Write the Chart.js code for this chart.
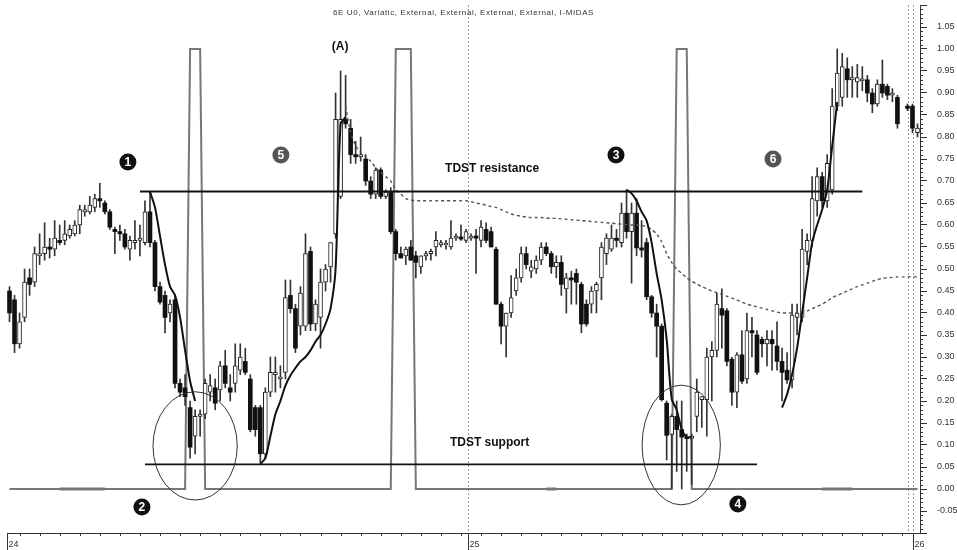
<!DOCTYPE html>
<html>
<head>
<meta charset="utf-8">
<title>6E U0 – I-MIDAS</title>
<script src="https://cdn.jsdelivr.net/npm/chart.js@4.4.1/dist/chart.umd.min.js"></script>
<style>
  html, body { margin: 0; padding: 0; background: #fff; }
  #wrap { width: 957px; height: 550px; }
</style>
</head>
<body>
<div id="wrap"><canvas id="chart" width="957" height="550"></canvas></div>
<script>
/* 6E U0 candles with I-MIDAS curves, TDST levels and the setup pulse indicator. */

// OHLC, one entry per bar (null = no bar).
const opens = [
  .45, .43, .33, .39, .48, .47, .53, .535, .55, .545,
  .565, .565, .575, .58, .60, .63, .63, .64, .66, .65,
  .63, .59, .585, .58, .545, .56, .565, .56, .63, .56,
  .46, .44, .40, .43, .24, .23, .185, .12, .165, .17,
  .22, .23, .225, .28, .23, .24, .27, .29, .25, .185,
  .185, .08, .22, .26, .25, .265, .44, .41, .37, .37,
  .54, .375, .39, .47, .505, .58, .665, .84, .82, .76,
  .755, .75, .70, .67, .725, .665, .675, .585, .535, .53,
  .55, .53, .505, .53, .535, .55, .555, .555, .55, .57,
  .573, .565, .57, .575, .565, .59, .585, .545, .42, .37,
  .40, .45, .48, .535, .495, .50, .52, .55, .535, .505,
  .515, .455, .48, .49, .465, .42, .42, .45, .48, .535,
  .545, .57, .56, .627, .585, .627, .548, .56, .437, .40,
  .37, .195, .124, .165, .135, .118, .115, .165, .203, .203,
  .30, .315, .41, .405, .295, .22, .305, .25, .36, .35,
  .34, .33, .34, .325, .29, .27, .248, .39, .39, .54,
  .565, .655, .71, .655, .68, .87, .89, .955, .93, .925,
  .93, .93, .90, .875, .92, .915, .895, .89, null, .87,
  .87, .81
];
const highs = [
  .46, .44, .40, .50, .50, .55, .58, .605, .57, .61,
  .60, .61, .60, .61, .645, .645, .665, .67, .695, .655,
  .635, .595, .60, .59, .575, .61, .60, .655, .676, .565,
  .47, .45, .43, .44, .25, .26, .20, .18, .18, .25,
  .26, .25, .29, .315, .26, .33, .33, .32, .26, .19,
  .19, .23, .30, .30, .28, .475, .475, .42, .46, .58,
  .55, .43, .50, .51, .56, .90, .95, .94, .84, .79,
  .80, .76, .71, .73, .73, .68, .685, .59, .55, .55,
  .565, .54, .53, .54, .545, .585, .565, .565, .61, .58,
  .60, .59, .58, .59, .61, .605, .595, .55, .425, .40,
  .485, .50, .55, .55, .52, .53, .56, .56, .54, .53,
  .53, .49, .495, .50, .47, .43, .46, .47, .56, .58,
  .60, .59, .65, .68, .65, .66, .61, .57, .44, .42,
  .375, .20, .17, .20, .20, .125, .125, .25, .21, .32,
  .335, .445, .455, .41, .30, .31, .36, .40, .39, .36,
  .345, .36, .36, .38, .32, .31, .42, .42, .59, .58,
  .71, .73, .72, .76, .91, 1.00, .99, .98, .96, .965,
  .96, .94, .91, .93, .975, .92, .91, .895, null, .875,
  .875, .83
];
const lows = [
  .38, .31, .32, .38, .44, .46, .51, .52, .525, .53,
  .555, .555, .57, .575, .58, .62, .625, .63, .64, .625,
  .59, .535, .565, .545, .52, .545, .53, .555, .55, .45,
  .42, .355, .38, .23, .21, .19, .07, .08, .12, .16,
  .20, .18, .20, .23, .20, .22, .26, .26, .13, .12,
  .06, .07, .21, .22, .23, .25, .40, .31, .35, .36,
  .36, .36, .32, .45, .47, .57, .66, .82, .74, .74,
  .745, .69, .66, .66, .66, .66, .58, .52, .525, .51,
  .52, .48, .49, .52, .52, .53, .55, .545, .545, .565,
  .565, .56, .565, .49, .55, .56, .55, .42, .33, .30,
  .39, .44, .47, .50, .48, .49, .51, .53, .49, .48,
  .44, .40, .42, .42, .355, .37, .40, .40, .43, .51,
  .54, .55, .55, .57, .468, .53, .527, .43, .39, .30,
  .20, .066, .00, .04, .00, .04, .01, .13, .14, .12,
  .20, .30, .32, .28, .19, .185, .24, .24, .30, .26,
  .30, .28, .27, .27, .20, .24, .23, .35, .38, .51,
  .55, .62, .64, .64, .67, .86, .87, .89, .89, .89,
  .905, .88, .855, .87, .89, .885, .88, .82, null, .86,
  .81, .80
];
const closes = [
  .40, .33, .38, .47, .465, .535, .535, .55, .545, .57,
  .56, .58, .59, .60, .635, .635, .645, .66, .655, .63,
  .595, .585, .58, .55, .565, .565, .57, .63, .56, .46,
  .425, .39, .42, .24, .22, .21, .095, .165, .17, .24,
  .235, .195, .28, .24, .22, .28, .30, .265, .135, .135,
  .08, .22, .265, .265, .255, .435, .41, .32, .445, .535,
  .375, .42, .47, .50, .56, .84, .84, .83, .76, .755,
  .76, .70, .67, .725, .665, .675, .585, .535, .525, .545,
  .52, .515, .53, .535, .54, .565, .56, .558, .57, .575,
  .568, .585, .575, .57, .595, .565, .55, .42, .37, .40,
  .435, .48, .535, .51, .505, .52, .55, .535, .505, .515,
  .465, .48, .475, .47, .375, .375, .45, .465, .55, .57,
  .57, .565, .627, .585, .627, .548, .543, .437, .40, .37,
  .203, .122, .165, .135, .118, .115, .12, .22, .21, .30,
  .315, .42, .395, .29, .22, .305, .245, .36, .355, .265,
  .33, .34, .33, .29, .265, .248, .395, .40, .545, .565,
  .66, .71, .655, .74, .87, .945, .96, .93, .935, .935,
  .93, .90, .875, .92, .90, .895, .90, .83, null, .865,
  .82, .82
];

const labels = opens.map((_, i) => String(i));

// I-MIDAS curves (black): first bar index + values.
const midas1Start = 28;
const midas1 = [.676, .64, .575, .51, .46, .44, .39, .315, .245, .20];
const midas2Start = 50;
const midas2 = [.057, .07, .12, .17, .20, .235, .258, .275, .29, .30, .315, .335, .35, .375, .41, .50, .83, .845];
const midas3Start = 123;
const midas3 = [.68, .672, .655, .63, .61, .56, .49, .43, .34, .205, .18, .135, .118, .118];
const midas4Start = 154;
const midas4 = [.185, .215, .26, .32, .40, .48, .56, .60, .635, .68, .78, .88];

// Dashed I-MIDAS from the (A) high.
const dashedStart = 67;
const dashed = [
  .87, .81, .78, .765, .755, .745, .73, .72, .71, .70,
  .68, .67, .66, .657, .655, .655, .655, .655, .655, .655,
  .655, .655, .655, .655, .655, .653, .65, .648, .645, .642,
  .64, .635, .63, .625, .622, .62, .618, .617, .617, .617,
  .616, .615, .615, .614, .613, .612, .611, .61, .609, .608,
  .607, .606, .605, .604, .603, .602, .601, .60, .60, .599,
  .596, .59, .58, .562, .535, .515, .50, .49, .48, .472,
  .466, .46, .455, .45, .446, .442, .438, .434, .43, .425,
  .42, .417, .414, .411, .408, .405, .402, .40, .40, .40,
  .40, .402, .405, .41, .415, .42, .427, .435, .44, .445,
  .45, .455, .46, .464, .468, .472, .476, .479, .48, .481,
  .482, .482, .482, .482, .482
];

// Setup indicator: bars where it reads 1.0, zero everywhere else.
const pulseOn = [36, 37, 38, 77, 78, 79, 80, 133, 134, 135];
// Short heavier stretches on the zero line.
const zeroMarks = [10, 11, 12, 13, 14, 15, 16, 17, 18, 19, 107, 108, 109, 162, 163, 164, 165, 166, 167, 168];

// TDST levels and the bars they span.
const resistanceLevel = 0.676;
const resistanceSpan = [26, 170];
const supportLevel = 0.056;
const supportSpan = [27, 149];

// Session starts (bar position) and their names.
const dayStarts = [-0.5, 91.4, 180.1];
const dayNames = ['24', '25', '26'];
const daySeparators = [91.4, 179.1, 180.1];

const notes = {
  title: '6E U0, Variatic, External, External, External, External, I-MIDAS',
  labels: [
    { text: '(A)', idx: 65.9, val: 1.005 },
    { text: 'TDST resistance', idx: 96.2, val: 0.727 },
    { text: 'TDST support', idx: 95.7, val: 0.105 }
  ],
  markers: [
    { n: '1', idx: 23.6, val: 0.743, fill: '#111' },
    { n: '2', idx: 26.4, val: -0.041, fill: '#111' },
    { n: '3', idx: 120.9, val: 0.759, fill: '#111' },
    { n: '4', idx: 145.2, val: -0.034, fill: '#111' },
    { n: '5', idx: 54.1, val: 0.759, fill: '#555' },
    { n: '6', idx: 152.2, val: 0.75, fill: '#555' }
  ],
  ellipses: [
    { idx: 37.0, val: 0.098, halfBars: 8.4, halfVal: 0.123 },
    { idx: 133.9, val: 0.10, halfBars: 7.8, halfVal: 0.136 }
  ]
};

const FONT = "'Liberation Sans', Arial, sans-serif";
const N = opens.length;

const padSeries = (start, values) => {
  const out = new Array(N).fill(null);
  values.forEach((v, k) => { out[start + k] = v; });
  return out;
};
const levelSeries = (level, [from, to]) => {
  const out = new Array(N).fill(null);
  out[from] = level;
  out[to] = level;
  return out;
};

// Floating bars: full range for the wick, open/close for the body.
const wicks = opens.map((o, i) => (o === null ? null : [lows[i], highs[i]]));
const bodyOf = (i) => {
  const lo = Math.min(opens[i], closes[i]);
  const hi = Math.max(opens[i], closes[i]);
  if (hi - lo < 0.004) { const m = (hi + lo) / 2; return [m - 0.002, m + 0.002]; }
  return [lo, hi];
};
const upBodies = opens.map((o, i) => (o !== null && closes[i] >= o ? bodyOf(i) : null));
const downBodies = opens.map((o, i) => (o !== null && closes[i] < o ? bodyOf(i) : null));

const pulse = labels.map((_, i) => (pulseOn.includes(i) ? 1 : 0));
const zeroMarkSeries = labels.map((_, i) => (zeroMarks.includes(i) ? 0 : null));

const lineDs = (data, extra) => Object.assign({
  type: 'line', data, pointRadius: 0, borderColor: '#111', borderWidth: 2,
  tension: 0.25, fill: false, spanGaps: false
}, extra);

const overlayPlugin = {
  id: 'overlay',
  beforeDatasetsDraw(chart) {
    const { ctx, chartArea: a, scales: { x } } = chart;
    ctx.save();
    ctx.strokeStyle = '#999';
    ctx.lineWidth = 1;
    ctx.setLineDash([2, 2]);
    daySeparators.forEach(v => {
      const px = Math.round(x.getPixelForValue(v)) + 0.5;
      ctx.beginPath(); ctx.moveTo(px, a.top); ctx.lineTo(px, a.bottom); ctx.stroke();
    });
    ctx.restore();
  },
  afterDraw(chart) {
    const { ctx, chartArea: a, scales: { x, y } } = chart;
    ctx.save();

    // minor ticks on the price axis
    ctx.strokeStyle = '#333';
    ctx.lineWidth = 1;
    for (let k = -10; k <= 110; k++) {
      if (k % 5 === 0) continue;
      const py = Math.round(y.getPixelForValue(k / 100)) + 0.5;
      ctx.beginPath(); ctx.moveTo(a.right, py); ctx.lineTo(a.right + 3, py); ctx.stroke();
    }

    // time axis ticks every 4 bars, plus session marks
    labels.forEach((_, i) => {
      if (i % 4 !== 2) return;
      const px = Math.round(x.getPixelForValue(i)) + 0.5;
      ctx.beginPath(); ctx.moveTo(px, a.bottom); ctx.lineTo(px, a.bottom + 3); ctx.stroke();
    });
    ctx.fillStyle = '#333';
    ctx.font = `9px ${FONT}`;
    ctx.textAlign = 'left';
    ctx.textBaseline = 'alphabetic';
    dayStarts.forEach((v, k) => {
      const px = Math.round(x.getPixelForValue(v)) + 0.5;
      ctx.beginPath(); ctx.moveTo(px, a.bottom); ctx.lineTo(px, chart.height); ctx.stroke();
      ctx.fillText(dayNames[k], px + 1, a.bottom + 14);
    });

    // title (the original is a wide, loosely set 8px face)
    ctx.font = `8px ${FONT}`;
    ctx.letterSpacing = '0.6px';
    ctx.textAlign = 'center';
    ctx.textBaseline = 'middle';
    ctx.fillText(notes.title, (a.left + a.right) / 2, a.top + 8);
    ctx.letterSpacing = '0px';

    // circled zones
    ctx.strokeStyle = '#333';
    notes.ellipses.forEach(e => {
      const cx = x.getPixelForValue(e.idx);
      const cy = y.getPixelForValue(e.val);
      const rx = x.getPixelForValue(e.idx + e.halfBars) - cx;
      const ry = cy - y.getPixelForValue(e.val + e.halfVal);
      ctx.beginPath(); ctx.ellipse(cx, cy, rx, ry, 0, 0, Math.PI * 2); ctx.stroke();
    });

    // text callouts
    ctx.fillStyle = '#111';
    ctx.font = `bold 12px ${FONT}`;
    notes.labels.forEach(l => {
      ctx.fillText(l.text, x.getPixelForValue(l.idx), y.getPixelForValue(l.val));
    });

    // numbered markers
    notes.markers.forEach(m => {
      const cx = x.getPixelForValue(m.idx);
      const cy = y.getPixelForValue(m.val);
      ctx.fillStyle = m.fill;
      ctx.beginPath(); ctx.arc(cx, cy, 8.5, 0, Math.PI * 2); ctx.fill();
      ctx.fillStyle = '#fff';
      ctx.font = `bold 12px ${FONT}`;
      ctx.fillText(m.n, cx, cy + 0.5);
    });
    ctx.restore();
  }
};

new Chart(document.getElementById('chart'), {
  type: 'bar',
  data: {
    labels,
    datasets: [
      lineDs(levelSeries(resistanceLevel, resistanceSpan), { tension: 0, spanGaps: true, order: 1 }),
      lineDs(levelSeries(supportLevel, supportSpan), { tension: 0, spanGaps: true, order: 1, borderWidth: 1.6 }),
      lineDs(padSeries(midas1Start, midas1), { order: 2 }),
      lineDs(padSeries(midas2Start, midas2), { order: 2 }),
      lineDs(padSeries(midas3Start, midas3), { order: 2 }),
      lineDs(padSeries(midas4Start, midas4), { order: 2 }),
      lineDs(padSeries(dashedStart, dashed), { order: 3, borderColor: '#555', borderWidth: 1.4, borderDash: [3, 3], tension: 0.2 }),
      { type: 'bar', data: upBodies, backgroundColor: '#fff', borderColor: '#222', borderWidth: 1,
        borderSkipped: false, barThickness: 4, grouped: false, order: 5 },
      { type: 'bar', data: downBodies, backgroundColor: '#111', borderColor: '#111', borderWidth: 0,
        borderSkipped: false, barThickness: 4, grouped: false, order: 5 },
      { type: 'bar', data: wicks, backgroundColor: '#333', barThickness: 1, grouped: false, order: 6 },
      lineDs(zeroMarkSeries, { order: 8, borderColor: '#777', borderWidth: 3, tension: 0 }),
      lineDs(pulse, { order: 9, borderColor: '#777', borderWidth: 2, tension: 0 })
    ]
  },
  options: {
    responsive: false,
    animation: false,
    devicePixelRatio: 1,
    layout: { padding: { left: 7, top: 5, right: 0, bottom: 0 } },
    plugins: { legend: { display: false }, tooltip: { enabled: false } },
    scales: {
      x: {
        type: 'category',
        offset: true,
        grid: { display: false },
        border: { display: true, color: '#333' },
        ticks: { display: false },
        afterFit: (scale) => { scale.height = 17; scale.paddingLeft = 0; scale.paddingRight = 0; }
      },
      y: {
        position: 'right',
        min: -0.1,
        max: 1.1,
        grid: { drawOnChartArea: false, tickLength: 7, color: '#333' },
        border: { display: true, color: '#333' },
        ticks: {
          stepSize: 0.05,
          padding: 10,
          color: '#333',
          font: { family: FONT, size: 9 },
          callback: (v) => (v < -0.06 || v > 1.06 ? '' : v.toFixed(2))
        },
        // keep the plot flush with the top; labels may sit in the margin
        afterFit: (scale) => { scale.width = 37; scale.paddingTop = 0; scale.paddingBottom = 0; }
      }
    }
  },
  plugins: [overlayPlugin]
});
</script>
</body>
</html>
